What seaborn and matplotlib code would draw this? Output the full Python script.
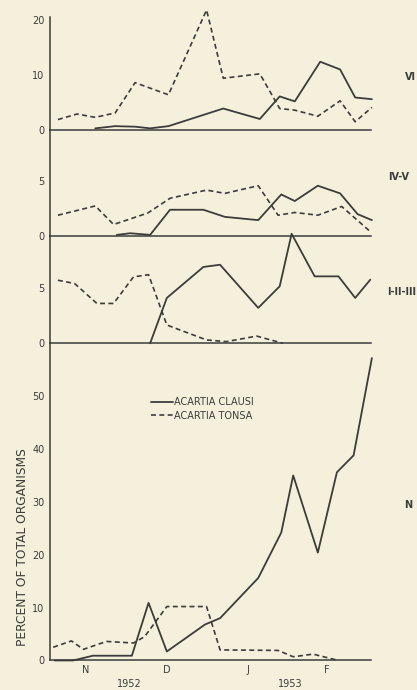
import matplotlib
matplotlib.use("Agg")
import matplotlib.pyplot as plt
import seaborn as sns

# x positions in months from 1 Nov 1952 (1 = Dec 1, 2 = Jan 1, 3 = Feb 1, 4 = Mar 1)
tonsa_vi_x = [0.10, 0.34, 0.57, 0.82, 1.07, 1.49, 1.97, 2.18, 2.64, 2.89, 3.08, 3.37, 3.65, 3.84, 4.05]
tonsa_vi = [1.9, 2.9, 2.3, 3.1, 8.6, 6.4, 21.8, 9.4, 10.2, 3.9, 3.6, 2.5, 5.3, 1.5, 4.1]
clausi_vi_x = [0.57, 0.82, 1.07, 1.26, 1.49, 2.18, 2.64, 2.89, 3.08, 3.40, 3.65, 3.84, 4.05]
clausi_vi = [0.3, 0.7, 0.6, 0.3, 0.7, 3.9, 2.0, 6.1, 5.2, 12.4, 11.0, 5.9, 5.6]

tonsa_iv_x = [0.10, 0.57, 0.80, 1.23, 1.51, 1.97, 2.20, 2.62, 2.87, 3.08, 3.37, 3.67, 4.03]
tonsa_iv = [1.9, 2.75, 1.05, 2.1, 3.45, 4.2, 3.9, 4.6, 1.9, 2.15, 1.9, 2.7, 0.4]
clausi_iv_x = [0.84, 1.01, 1.26, 1.51, 1.93, 2.20, 2.62, 2.91, 3.08, 3.37, 3.65, 3.87, 4.05]
clausi_iv = [0.1, 0.25, 0.1, 2.4, 2.4, 1.75, 1.45, 3.8, 3.2, 4.6, 3.9, 2.0, 1.45]

tonsa_i_x = [0.10, 0.31, 0.59, 0.80, 1.05, 1.24, 1.47, 1.97, 2.22, 2.60, 2.93]
tonsa_i = [5.7, 5.4, 3.6, 3.6, 6.0, 6.2, 1.65, 0.3, 0.15, 0.65, 0.0]
clausi_i_x = [1.26, 1.47, 1.93, 2.14, 2.62, 2.89, 3.04, 3.33, 3.63, 3.84, 4.03]
clausi_i = [0.0, 4.1, 6.9, 7.1, 3.2, 5.15, 9.9, 6.05, 6.05, 4.1, 5.75]

tonsa_n_x = [0.04, 0.27, 0.42, 0.71, 1.05, 1.19, 1.47, 1.97, 2.14, 2.87, 3.06, 3.31, 3.63]
tonsa_n = [2.5, 3.7, 2.1, 3.6, 3.3, 4.5, 10.2, 10.2, 2.0, 1.9, 0.7, 1.2, 0.0]
clausi_n_x = [0.06, 0.29, 0.54, 1.03, 1.24, 1.47, 1.95, 2.14, 2.62, 2.91, 3.06, 3.37, 3.61, 3.82, 4.05]
clausi_n = [0.0, 0.0, 0.9, 0.9, 10.9, 1.7, 6.8, 8.0, 15.6, 24.2, 35.0, 20.4, 35.6, 38.8, 57.2]

stage_labels = ["VI", "IV-V", "I-II-III", "N"]
month_labels = ["N", "D", "J", "F"]
year_labels = ["1952", "1953"]
series_labels = ["ACARTIA CLAUSI", "ACARTIA TONSA"]

paper = "#f4f0db"
ink = "#3c3c3c"

sns.set_theme(style="white")
plt.rcParams["font.family"] = ["DejaVu Sans"]
plt.rcParams["text.color"] = ink
plt.rcParams["axes.edgecolor"] = ink
plt.rcParams["xtick.color"] = ink
plt.rcParams["ytick.color"] = ink

fig = plt.figure(figsize=(4.17, 6.9), dpi=100, facecolor=paper)

left, width = 0.1199, 0.770
panels = [
    # bottom, height, ylim, yticks, x data, y data
    (0.8116, 0.1739, 21.8, [0, 10, 20], clausi_vi_x, clausi_vi, tonsa_vi_x, tonsa_vi),
    (0.6580, 0.1536, 9.7, [0, 5], clausi_iv_x, clausi_iv, tonsa_iv_x, tonsa_iv),
    (0.5025, 0.1555, 9.7, [0, 5], clausi_i_x, clausi_i, tonsa_i_x, tonsa_i),
    (0.0428, 0.4597, 60.0, [0, 10, 20, 30, 40, 50], clausi_n_x, clausi_n, tonsa_n_x, tonsa_n),
]
label_pos = [(0.985, 0.888), (0.955, 0.743), (0.962, 0.577), (0.980, 0.268)]

axes = []
for i, (b, h, ytop, yt, cx, cy, tx, ty) in enumerate(panels):
    ax = fig.add_axes([left, b, width, h])
    ax.set_facecolor("none")
    sns.lineplot(x=cx, y=cy, ax=ax, color=ink, lw=1.3, label=series_labels[0])
    sns.lineplot(x=tx, y=ty, ax=ax, color=ink, lw=1.2, label=series_labels[1])
    ax.lines[1].set_dashes((3, 2))
    for ln in ax.lines:
        ln.set_clip_on(False)
    ax.set_xlim(0, 4.04)
    ax.set_ylim(0, ytop)
    ax.set_yticks(yt)
    ax.set_xticks([1, 2, 3, 4])
    ax.set_xticklabels([])
    ax.tick_params(axis="both", direction="out", length=4, width=0.9, labelsize=7, pad=1)
    ax.tick_params(axis="y", length=3)
    for s in ["top", "right"]:
        ax.spines[s].set_visible(False)
    ax.spines["left"].set_linewidth(1.1)
    ax.spines["bottom"].set_linewidth(1.1)
    ax.set_xlabel("")
    ax.set_ylabel("")
    if ax.get_legend():
        ax.get_legend().remove()
    fig.text(label_pos[i][0], label_pos[i][1], stage_labels[i], ha="center", va="center",
             fontsize=7, fontweight="bold", color=ink)
    axes.append(ax)

axes[0].spines["left"].set_bounds(0, 20.5)

ax_n = axes[-1]
ax_n.set_xticks([0.45, 1.47, 2.49, 3.48], minor=True)
ax_n.set_xticklabels(month_labels, minor=True, fontsize=7)
ax_n.tick_params(axis="x", which="minor", length=0, pad=3)
for xv, yr in zip([1.0, 3.02], year_labels):
    ax_n.text(xv, -0.06, yr, transform=ax_n.get_xaxis_transform(), ha="center", va="top", fontsize=7)

handles, labels = ax_n.get_legend_handles_labels()
ax_n.legend(handles, labels, loc="upper left", bbox_to_anchor=(0.30, 0.845), frameon=False,
            fontsize=7, handlelength=2.2, handletextpad=0.1, borderpad=0, labelspacing=0.35)

fig.text(0.053, 0.207, "PERCENT OF TOTAL ORGANISMS", rotation=90, ha="center", va="center",
         fontsize=8.8, color=ink)

fig.savefig("out.png", dpi=100, facecolor=paper)
